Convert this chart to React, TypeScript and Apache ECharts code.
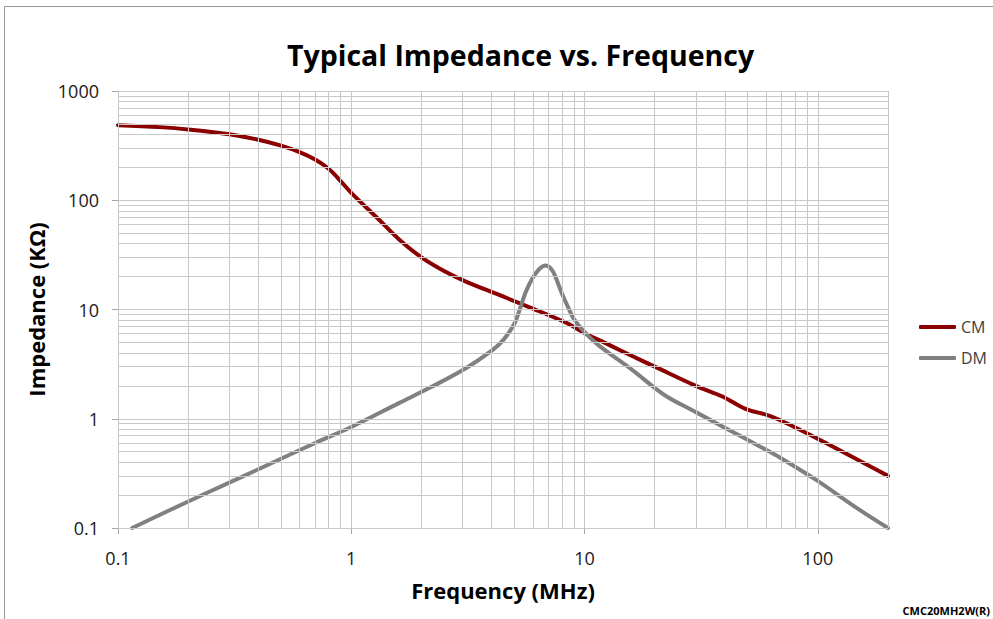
import React, { useEffect, useRef } from "react";
import * as echarts from "echarts";

const titleText = "Typical Impedance vs. Frequency";
const xAxisTitle = "Frequency (MHz)";
const yAxisTitle = "Impedance (KΩ)";
const footnote = "CMC20MH2W(R)";
const seriesNames = ["CM", "DM"];

const cmFreq = [0.1, 0.15, 0.2, 0.3, 0.4, 0.5, 0.6, 0.7, 0.8, 0.9, 1.0, 1.3, 1.6, 2.0, 2.5, 3.1, 4.3, 6.0, 8.3, 10, 13, 16, 20, 30, 39, 49, 60, 69, 98, 200];
const cmImp = [487, 467, 445, 402, 358, 316, 276, 236, 194, 150, 117, 68, 44, 30, 22.5, 18, 13.6, 10.2, 7.6, 6.1, 4.65, 3.75, 3.0, 2.0, 1.6, 1.23, 1.09, 0.97, 0.67, 0.3];

const dmFreq = [0.115, 0.2, 0.3, 0.5, 0.7, 1, 1.6, 2.2, 3.1, 4.0, 4.5, 5.0, 5.3, 5.6, 6.0, 6.4, 6.8, 7.2, 7.5, 8.0, 8.5, 9.0, 10, 11.5, 16, 22, 30, 39, 60, 69, 98, 150, 200];
const dmImp = [0.1, 0.175, 0.26, 0.43, 0.6, 0.84, 1.39, 1.95, 2.9, 4.2, 5.3, 7.4, 10.3, 14.5, 19.5, 23.5, 25.3, 23.5, 20, 14, 10.5, 8.2, 6.2, 4.7, 2.8, 1.65, 1.15, 0.85, 0.52, 0.44, 0.277, 0.148, 0.1];

const xGridValues = [0.1, 0.2, 0.3, 0.4, 0.5, 0.6, 0.7, 0.8, 0.9, 1, 2, 3, 4, 5, 6, 7, 8, 9, 10, 20, 30, 40, 50, 60, 70, 80, 90, 100, 200];
const yGridValues = [0.1, 0.2, 0.3, 0.4, 0.5, 0.6, 0.7, 0.8, 0.9, 1, 2, 3, 4, 5, 6, 7, 8, 9, 10, 20, 30, 40, 50, 60, 70, 80, 90, 100, 200, 300, 400, 500, 600, 700, 800, 900, 1000];
const xTickLabels = [0.1, 1, 10, 100];
const yTickLabels = [0.1, 1, 10, 100, 1000];

const FONT = "'Open Sans', 'Noto Sans', sans-serif";

export default function App() {
  const ref = useRef<HTMLDivElement>(null);
  useEffect(() => {
    if (!ref.current) return;
    const chart = echarts.init(ref.current, null, { renderer: "svg" });
    const pairs = (xs: number[], ys: number[]) => xs.map((x, i) => [x, ys[i]]);
    const gridLine = { color: "#c8c8c8", width: 1, type: "solid" as const };
    chart.setOption({
      animation: false,
      backgroundColor: "#ffffff",
      title: {
        text: titleText,
        left: 282,
        top: 35,
        textStyle: { fontFamily: FONT, fontWeight: "bold", fontSize: 28.5, color: "#000" },
      },
      grid: { left: 118, right: 105, top: 91, bottom: 91, containLabel: false },
      legend: {
        data: seriesNames,
        orient: "vertical",
        left: 914,
        top: 314,
        itemWidth: 37,
        itemHeight: 4,
        itemGap: 15,
        icon: "roundRect",
        textStyle: { fontFamily: FONT, fontSize: 16, color: "#404040" },
      },
      xAxis: {
        type: "log",
        logBase: 10,
        min: 0.1,
        max: 200,
        name: xAxisTitle,
        nameLocation: "middle",
        nameGap: 51,
        nameTextStyle: { fontFamily: FONT, fontWeight: "bold", fontSize: 22, color: "#000" },
        axisLine: { show: true, lineStyle: { color: "#a6a6a6", width: 1 } },
        axisTick: { show: true, length: 6, lineStyle: { color: "#a6a6a6" }, customValues: xTickLabels },
        axisLabel: {
          fontFamily: FONT, fontSize: 18, color: "#1a1a1a", margin: 21,
          customValues: xTickLabels,
          formatter: (v: number) => String(v),
        },
        splitLine: { show: false },
        minorTick: { show: false },
        minorSplitLine: { show: false },
      },
      yAxis: {
        type: "log",
        logBase: 10,
        min: 0.1,
        max: 1000,
        name: yAxisTitle,
        nameLocation: "middle",
        nameGap: 64,
        nameTextStyle: { fontFamily: FONT, fontWeight: "bold", fontSize: 22, color: "#000" },
        axisLine: { show: true, lineStyle: { color: "#a6a6a6", width: 1 } },
        axisTick: { show: true, length: 6, lineStyle: { color: "#a6a6a6" }, customValues: yTickLabels },
        axisLabel: {
          fontFamily: FONT, fontSize: 18, color: "#1a1a1a", margin: 19,
          customValues: yTickLabels,
          formatter: (v: number) => String(v),
        },
        splitLine: { show: false },
        minorTick: { show: false },
        minorSplitLine: { show: false },
      },
      graphic: [
        { type: "line", shape: { x1: 4.5, y1: 6.5, x2: 993, y2: 6.5 }, style: { stroke: "#9a9a9a", lineWidth: 1 } },
        { type: "line", shape: { x1: 4.5, y1: 6.5, x2: 4.5, y2: 619 }, style: { stroke: "#9a9a9a", lineWidth: 1 } },
        {
          type: "text", right: 3, top: 605,
          style: { text: footnote, font: `bold 11px ${FONT}`, fill: "#000" },
        },
      ],
      series: [
        {
          name: "grid",
          type: "line",
          data: [[1, 1]],
          symbol: "none",
          lineStyle: { opacity: 0 },
          silent: true,
          z: 1,
          markLine: {
            silent: true,
            symbol: "none",
            label: { show: false },
            lineStyle: gridLine,
            data: [
              ...xGridValues.map((v) => ({ xAxis: v })),
              ...yGridValues.map((v) => ({ yAxis: v })),
            ],
          },
        },
        {
          name: seriesNames[0],
          type: "line",
          data: pairs(cmFreq, cmImp),
          smooth: 0.35,
          symbol: "none",
          color: "#8b0000",
          lineStyle: { width: 4, color: "#8b0000", cap: "round" },
          z: 3,
        },
        {
          name: seriesNames[1],
          type: "line",
          data: pairs(dmFreq, dmImp),
          smooth: 0.35,
          symbol: "none",
          color: "#808080",
          lineStyle: { width: 4, color: "#808080", cap: "round" },
          z: 3,
        },
      ],
    });
    return () => chart.dispose();
  }, []);
  return (
    <div
      ref={ref}
      style={{ position: "fixed", left: 0, top: 0, width: 993, height: 619, background: "#fff" }}
    />
  );
}
